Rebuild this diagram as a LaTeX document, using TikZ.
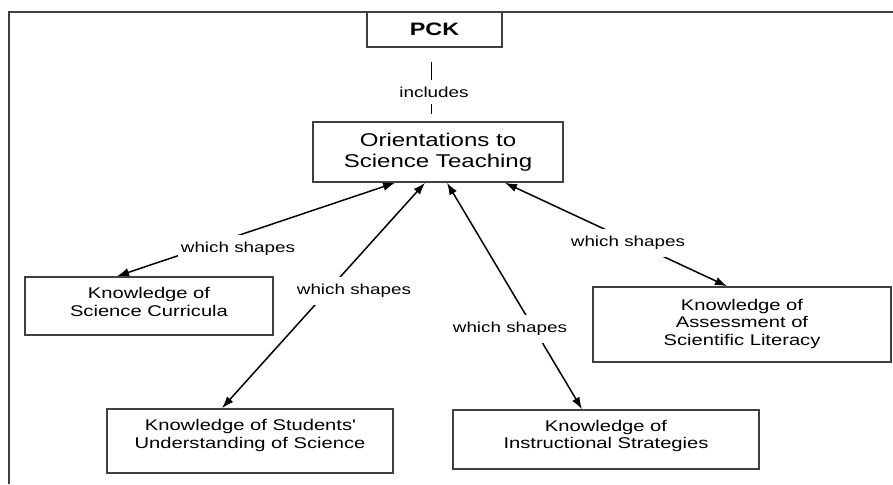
\documentclass[tikz,border=0pt]{standalone}
\usepackage{fontspec}
\setmainfont{Liberation Sans}[FakeStretch=1.3]
\usetikzlibrary{arrows.meta}

\begin{document}
\begin{tikzpicture}[x=1pt,y=-1pt,
  box/.style={draw=black!75, line width=1.6pt, align=center, inner sep=0pt,
    font=\fontsize{15.5}{17.5}\selectfont},
  lbl/.style={fill=white, inner xsep=3pt, inner ysep=7pt,
    font=\fontsize{14.5}{16}\selectfont},
  rel/.style={line width=1.5pt, {Latex[length=12pt,width=8.5pt]}-{Latex[length=12pt,width=8.5pt]}}]
  \useasboundingbox (0,0) rectangle (893,484);
  \draw[line width=1.4pt, black!75] (9,484) -- (9,12) -- (893,12);

  \node[box, minimum width=135pt, minimum height=35pt, font=\bfseries\fontsize{18}{21}\selectfont] (pck) at (434.5,29.5) {PCK};
  \node[box, minimum width=250pt, minimum height=60pt, text depth=4pt, font=\fontsize{18.5}{21}\selectfont] (ost) at (438,152) {Orientations to\\Science Teaching};
  \node[box, minimum width=248pt, minimum height=58pt, text depth=8pt] (cur) at (149,306) {Knowledge of\\Science Curricula};
  \node[box, minimum width=286pt, minimum height=64pt, text depth=14pt] (stu) at (250,441) {Knowledge of Students\textquotesingle\\Understanding of Science};
  \node[box, minimum width=306pt, minimum height=59pt, text depth=10pt] (ins) at (606,439.5) {Knowledge of\\Instructional Strategies};
  \node[box, minimum width=298pt, minimum height=75pt, text depth=5pt] (ass) at (742,324.5) {Knowledge of\\Assessment of\\Scientific Literacy};

  \draw[line width=1.5pt, shorten <=14pt, shorten >=7pt] ([xshift=-3pt]pck.south) -- ([xshift=-3pt]pck.south |- ost.north);
  \draw[rel] ([xshift=-43pt]ost.south) -- ([xshift=-32pt]cur.north);
  \draw[rel] ([xshift=-13pt]ost.south) -- ([xshift=-28pt]stu.north);
  \draw[rel] ([xshift=9pt]ost.south) -- ([xshift=-24pt]ins.north);
  \draw[rel] ([xshift=67pt]ost.south) -- ([xshift=-15pt]ass.north);

  \node[lbl] (inc) at (434,92) {includes};
  \node[lbl] (w1) at (238,249) {which shapes};
  \node[lbl] (w2) at (354,291) {which shapes};
  \node[lbl] (w3) at (510,329) {which shapes};
  \node[lbl] (w4) at (628,243) {which shapes};
\end{tikzpicture}
\end{document}
